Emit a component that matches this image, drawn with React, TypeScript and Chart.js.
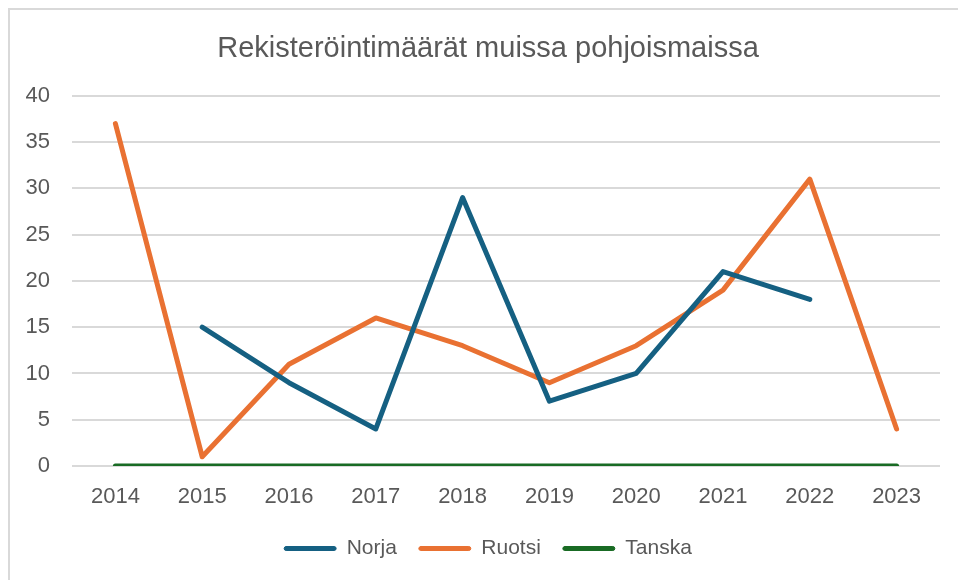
import React, { useEffect, useRef } from "react";
import { Chart, registerables } from "chart.js";

Chart.register(...registerables);

const categories = ["2014", "2015", "2016", "2017", "2018", "2019", "2020", "2021", "2022", "2023"];
const norja = [null, 15, 9, 4, 29, 7, 10, 21, 18, null];
const ruotsi = [37, 1, 11, 16, 13, 9, 13, 19, 31, 4];
const tanska = [0, 0, 0, 0, 0, 0, 0, 0, 0, 0];
const title = "Rekisteröintimäärät muissa pohjoismaissa";

const FONT = "'Liberation Sans', Arial, sans-serif";
const TEXT = "#595959";

export default function App() {
  const ref = useRef<HTMLCanvasElement>(null);
  useEffect(() => {
    const mk = (label: string, data: (number | null)[], color: string) => ({
      label,
      data,
      borderColor: color,
      backgroundColor: color,
      borderWidth: 5,
      pointRadius: 0,
      pointHoverRadius: 0,
      tension: 0,
      borderCapStyle: "round" as const,
      borderJoinStyle: "round" as const,
      spanGaps: false,
    });
    const unclip = {
      id: "unclipY",
      afterLayout(c: any) {
        if (c.scales.y) c.scales.y.left = 0;
      },
    };
    const chart = new Chart(ref.current!, {
      type: "line",
      data: {
        labels: categories,
        datasets: [
          mk("Norja", norja, "#156082"),
          mk("Ruotsi", ruotsi, "#E97132"),
          mk("Tanska", tanska, "#196B24"),
        ],
      },
      plugins: [unclip],
      options: {
        animation: false,
        responsive: false,
        maintainAspectRatio: false,
        layout: { padding: { top: 0, left: 26, right: 18, bottom: 11 } },
        plugins: {
          tooltip: { enabled: false },
          title: {
            display: true,
            text: title,
            color: TEXT,
            font: { family: FONT, size: 29, weight: "normal" },
            padding: { top: 22, bottom: 29 },
          },
          legend: {
            position: "bottom",
            labels: {
              color: TEXT,
              font: { family: FONT, size: 21 },
              boxWidth: 52,
              boxHeight: 4,
              padding: 22,
              useBorderRadius: true,
              borderRadius: 2,
              generateLabels: (c: any) => {
                const items = Chart.defaults.plugins.legend.labels.generateLabels(c);
                return items.map((it: any) => ({
                  ...it,
                  fillStyle: it.strokeStyle,
                  lineWidth: 1,
                  borderRadius: 2,
                }));
              },
            },
          },
        },
        scales: {
          x: {
            offset: true,
            grid: { display: false, drawTicks: false, offset: true },
            border: { display: false },
            ticks: { color: TEXT, font: { family: FONT, size: 22 }, padding: 18, maxRotation: 0 },
            afterFit: (s: any) => {
              s.height = 50;
            },
          },
          y: {
            min: 0,
            max: 40,
            grid: { color: "#d9d9d9", lineWidth: 2, drawTicks: false },
            border: { display: false },
            ticks: { stepSize: 5, color: TEXT, font: { family: FONT, size: 22 }, padding: 22 },
            afterFit: (s: any) => {
              s.width = 36;
            },
          },
        },
      },
    });
    return () => chart.destroy();
  }, []);
  return (
    <div style={{ position: "fixed", left: 0, top: 0, width: 958, height: 580, overflow: "hidden", background: "#fff" }}>
      <div
        style={{
          position: "absolute",
          left: 8,
          top: 8,
          width: 950,
          height: 572,
          borderLeft: "2px solid #d9d9d9",
          borderTop: "2px solid #d9d9d9",
          background: "#fff",
          boxSizing: "border-box",
        }}
      >
        <canvas ref={ref} width={948} height={570} style={{ display: "block" }} />
      </div>
    </div>
  );
}
